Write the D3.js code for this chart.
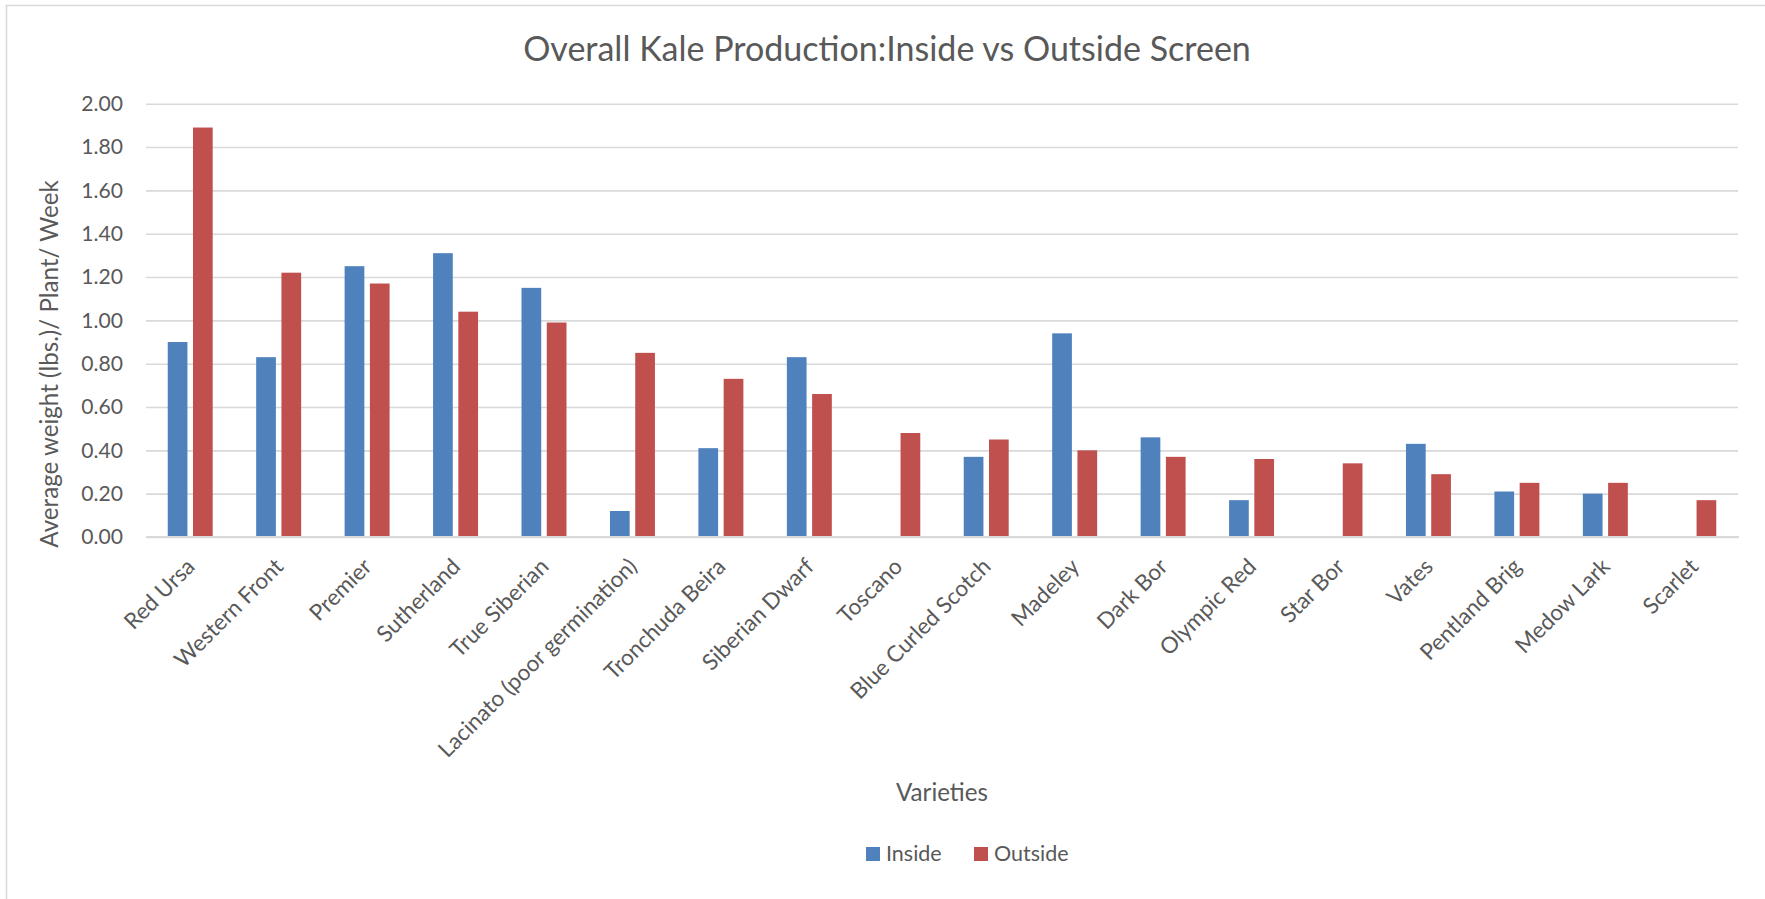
<!DOCTYPE html>
<html>
<head>
<meta charset="utf-8">
<script src="https://cdn.jsdelivr.net/npm/d3@7"></script>
<style>
  html, body { margin: 0; padding: 0; background: #fff; }
  svg { display: block; }
  text { fill: #595959; }
</style>
</head>
<body>
<svg id="chart"></svg>
<script>
"use strict";

const WIDTH = 1765;
const HEIGHT = 899;
const FONT = "Lato, 'Open Sans', sans-serif";

const CATEGORIES = [
  "Red Ursa", "Western Front", "Premier", "Sutherland", "True Siberian",
  "Lacinato (poor germination)", "Tronchuda Beira", "Siberian Dwarf", "Toscano",
  "Blue Curled Scotch", "Madeley", "Dark Bor", "Olympic Red", "Star Bor",
  "Vates", "Pentland Brig", "Medow Lark", "Scarlet"
];
const SERIES = ["Inside", "Outside"];
const INSIDE = [0.90, 0.83, 1.25, 1.31, 1.15, 0.12, 0.41, 0.83, null, 0.37, 0.94, 0.46, 0.17, null, 0.43, 0.21, 0.20, null];
const OUTSIDE = [1.89, 1.22, 1.17, 1.04, 0.99, 0.85, 0.73, 0.66, 0.48, 0.45, 0.40, 0.37, 0.36, 0.34, 0.29, 0.25, 0.25, 0.17];
const Y_TICKS = [0, 0.2, 0.4, 0.6, 0.8, 1.0, 1.2, 1.4, 1.6, 1.8, 2.0];

const TITLE = "Overall Kale Production:Inside vs Outside Screen";
const X_TITLE = "Varieties";
const Y_TITLE = "Average weight (lbs.)/ Plant/ Week";

const COLORS = { Inside: "#4F81BD", Outside: "#C0504D" };

const PLOT = { LEFT: 146, RIGHT: 1738, TOP: 103.7, BOTTOM: 537 };

const svg = d3.select("#chart").attr("width", WIDTH).attr("height", HEIGHT);

// pick font sizes so the substitute font takes the same room as the original text
function fitFont(text, width) {
  const t = svg.append("text").style("font-family", FONT).style("font-size", "100px").text(text);
  const w = t.node().getComputedTextLength();
  t.remove();
  return 100 * width / w;
}

const TITLE_SIZE = fitFont(TITLE, 728);
const AXIS_TITLE_SIZE = fitFont(X_TITLE, 92);
const LEGEND_SIZE = fitFont("Outside", 74.6);
const TICK_SIZE = fitFont("Lacinato (poor germination)", 270);
const Y_TICK_SIZE = fitFont("1.00", 41.7);

// chart border (right and bottom edges fall outside the picture)
svg.append("rect")
  .attr("x", 6.5).attr("y", 5.5)
  .attr("width", WIDTH + 50).attr("height", HEIGHT + 50)
  .attr("fill", "#fff").attr("stroke", "#d9d9d9").attr("stroke-width", 1.5);

const x0 = d3.scaleBand().domain(CATEGORIES).range([PLOT.LEFT, PLOT.RIGHT]);
const x1 = d3.scaleBand().domain(SERIES).range([0, x0.bandwidth()])
  .paddingInner(0.22).paddingOuter(0.86);
const y = d3.scaleLinear().domain([0, 2]).range([PLOT.BOTTOM, PLOT.TOP]);

// gridlines + y labels
const yAxis = svg.append("g")
  .attr("transform", `translate(${PLOT.LEFT},0)`)
  .call(d3.axisLeft(y).tickValues(Y_TICKS).tickSize(-(PLOT.RIGHT - PLOT.LEFT)).tickPadding(23).tickFormat(d3.format(".2f")));
yAxis.select(".domain").remove();
yAxis.selectAll(".tick line").attr("stroke", "#d9d9d9").attr("stroke-width", 1.6);
yAxis.selectAll(".tick text")
  .style("font-family", FONT).style("font-size", Y_TICK_SIZE + "px").attr("fill", "#595959");

// bars
const rows = CATEGORIES.map((c, i) => ({ cat: c, vals: [
  { key: "Inside", v: INSIDE[i] },
  { key: "Outside", v: OUTSIDE[i] }
]}));

svg.append("g").selectAll("g").data(rows).join("g")
  .attr("transform", d => `translate(${x0(d.cat)},0)`)
  .selectAll("rect").data(d => d.vals.filter(e => e.v !== null)).join("rect")
  .attr("x", d => x1(d.key))
  .attr("width", x1.bandwidth())
  .attr("y", d => y(d.v))
  .attr("height", d => y(0) - y(d.v))
  .attr("fill", d => COLORS[d.key]);

// x axis line
svg.append("line")
  .attr("x1", PLOT.LEFT).attr("x2", PLOT.RIGHT + 1)
  .attr("y1", y(0)).attr("y2", y(0))
  .attr("stroke", "#d9d9d9").attr("stroke-width", 2.2);

// category labels, rotated
svg.append("g").selectAll("text").data(CATEGORIES).join("text")
  .attr("text-anchor", "end")
  .attr("transform", d => `translate(${x0(d) + x0.bandwidth() / 2 + 6},${y(0) + 31}) rotate(-45)`)
  .style("font-family", FONT).style("font-size", TICK_SIZE + "px")
  .attr("fill", "#595959")
  .text(d => d);

// titles
svg.append("text")
  .attr("x", 887).attr("y", 60.5)
  .attr("text-anchor", "middle")
  .style("font-family", FONT).style("font-size", TITLE_SIZE + "px")
  .text(TITLE);

svg.append("text")
  .attr("x", (PLOT.LEFT + PLOT.RIGHT) / 2).attr("y", 800.5)
  .attr("text-anchor", "middle")
  .style("font-family", FONT).style("font-size", AXIS_TITLE_SIZE + "px")
  .text(X_TITLE);

svg.append("text")
  .attr("transform", "translate(58,364) rotate(-90)")
  .attr("text-anchor", "middle")
  .style("font-family", FONT).style("font-size", AXIS_TITLE_SIZE + "px")
  .text(Y_TITLE);

// legend
const LEGEND_X = [866, 974];
const legend = svg.append("g").selectAll("g").data(SERIES).join("g")
  .attr("transform", (d, i) => `translate(${LEGEND_X[i]},847)`);
legend.append("rect").attr("width", 14).attr("height", 14).attr("fill", d => COLORS[d]);
legend.append("text")
  .attr("x", 20).attr("y", 13.5)
  .style("font-family", FONT).style("font-size", LEGEND_SIZE + "px")
  .text(d => d);
</script>
</body>
</html>
